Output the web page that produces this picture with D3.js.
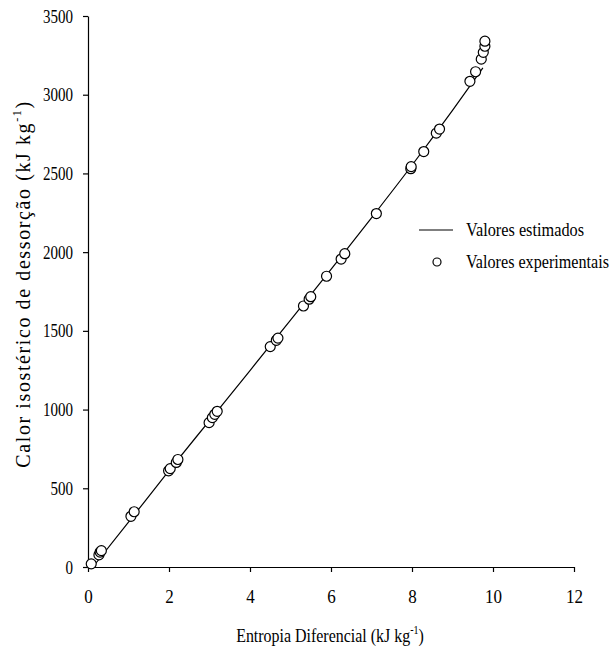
<!DOCTYPE html>
<html>
<head>
  <meta charset="UTF-8">
  <title>Calor isostérico vs Entropia Diferencial</title>
  <script src="https://d3js.org/d3.v7.min.js"></script>
  <style>
    body { margin: 0; background: white; }
    svg { font-family: "Liberation Serif", "Times New Roman", serif; }
    .tick text { font-size: 19px; fill: black; }
    .domain, .tick line { stroke: black; stroke-width: 1.2px; }
  </style>
</head>
<body>
  <svg></svg>
  <script>
    const entropia = [0.08, 0.27, 0.30, 0.33, 1.06, 1.14, 1.99, 2.03, 2.18, 2.22,
      2.99, 3.07, 3.13, 3.19, 4.50, 4.65, 4.69, 5.32, 5.46, 5.50, 5.89, 6.25, 6.34,
      7.12, 7.97, 7.98, 8.29, 8.60, 8.68, 9.43, 9.57, 9.71, 9.76, 9.80, 9.80];
    const calor = [20, 77, 95, 104, 322, 351, 611, 625, 664, 683,
      917, 949, 970, 989, 1400, 1440, 1454, 1658, 1701, 1717, 1847, 1956, 1990,
      2245, 2530, 2543, 2639, 2756, 2782, 3085, 3146, 3226, 3269, 3308, 3340];

    // estimated curve
    const entropiaEst = [0.12, 1, 2, 3, 4, 5, 6, 7, 8, 9, 9.75];
    const calorEst = [0, 285, 612, 930, 1248, 1568, 1890, 2218, 2552, 2900, 3170];

    const xTicks = [0, 2, 4, 6, 8, 10, 12];
    const yTicks = [0, 500, 1000, 1500, 2000, 2500, 3000, 3500];

    const margin = { top: 16, right: 40, bottom: 88, left: 88 };
    const W = 614, H = 655;
    const width = W - margin.left - margin.right;
    const height = H - margin.top - margin.bottom;

    const svg = d3.select('svg').attr('width', W).attr('height', H);
    const g = svg.append('g').attr('transform', `translate(${margin.left},${margin.top})`);

    const x = d3.scaleLinear().domain([0, 12]).range([0, width]);
    const y = d3.scaleLinear().domain([0, 3500]).range([height, 0]);

    g.append('g')
      .call(d3.axisBottom(x).tickValues(xTicks).tickFormat(d3.format('d'))
        .tickSize(5).tickSizeOuter(0).tickPadding(18))
      .attr('transform', `translate(0,${height})`)
      .attr('font-family', null)
      .selectAll('text')
      .attr('textLength', d => String(d).length * 8.5)
      .attr('lengthAdjust', 'spacingAndGlyphs');

    g.append('g')
      .call(d3.axisLeft(y).tickValues(yTicks).tickFormat(d3.format('d'))
        .tickSize(5).tickSizeOuter(0).tickPadding(10))
      .attr('font-family', null)
      .selectAll('text')
      .attr('textLength', d => String(d).length * 7.5)
      .attr('lengthAdjust', 'spacingAndGlyphs');

    const line = d3.line().x(d => x(d[0])).y(d => y(d[1])).curve(d3.curveMonotoneX);
    g.append('path')
      .datum(d3.zip(entropiaEst, calorEst))
      .attr('fill', 'none')
      .attr('stroke', 'black')
      .attr('stroke-width', 1.2)
      .attr('d', line);

    g.selectAll('.pt')
      .data(d3.zip(entropia, calor))
      .enter().append('circle')
      .attr('class', 'pt')
      .attr('cx', d => x(d[0]))
      .attr('cy', d => y(d[1]))
      .attr('r', 5)
      .attr('fill', 'white')
      .attr('stroke', 'black')
      .attr('stroke-width', 1.2);

    // axis titles
    const xt = svg.append('text')
      .attr('transform', 'translate(330,642) scale(0.84,1)')
      .attr('text-anchor', 'middle')
      .attr('font-size', '19px');
    xt.append('tspan').text('Entropia Diferencial (kJ kg');
    xt.append('tspan').attr('font-size', '12px').attr('dy', -8).text('-1');
    xt.append('tspan').attr('dy', 8).text(')');

    const yt = svg.append('text')
      .attr('transform', 'translate(30,284) rotate(-90)')
      .attr('text-anchor', 'middle')
      .attr('font-size', '20px')
      .attr('letter-spacing', '1.6px');
    yt.append('tspan').text('Calor isostérico de dessorção (kJ kg');
    yt.append('tspan').attr('font-size', '12px').attr('dy', -9).text('-1');
    yt.append('tspan').attr('dy', 9).text(')');

    // legend
    const leg = svg.append('g').attr('font-size', '19px');
    leg.append('line').attr('x1', 419).attr('x2', 453).attr('y1', 230).attr('y2', 230)
      .attr('stroke', 'black').attr('stroke-width', 1.2);
    leg.append('text').attr('x', 466).attr('y', 236).text('Valores estimados')
      .attr('textLength', 118).attr('lengthAdjust', 'spacingAndGlyphs');
    leg.append('circle').attr('cx', 437).attr('cy', 262).attr('r', 4)
      .attr('fill', 'white').attr('stroke', 'black').attr('stroke-width', 1.2);
    leg.append('text').attr('x', 466).attr('y', 268).text('Valores experimentais')
      .attr('textLength', 143).attr('lengthAdjust', 'spacingAndGlyphs');
  </script>
</body>
</html>
